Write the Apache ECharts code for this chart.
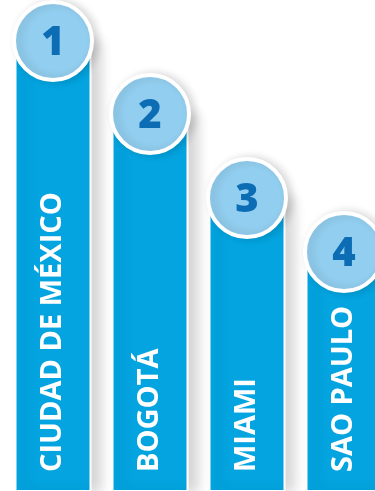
<!DOCTYPE html>
<html>
<head>
<meta charset="utf-8">
<script src="https://cdn.jsdelivr.net/npm/echarts@6/dist/echarts.min.js"></script>
<style>
  html, body { margin: 0; padding: 0; background: #ffffff; }
  #chart { width: 375px; height: 491px; }
</style>
</head>
<body>
<div id="chart"></div>
<script>
// Ranking of cities: column height marks the position, badge shows the rank
const cities = ['CIUDAD DE MÉXICO', 'BOGOTÁ', 'MIAMI', 'SAO PAULO'];
const ranks = ['1', '2', '3', '4'];
const heights = [460, 387, 303, 249];

const BAR_BLUE = '#03A4E0';
const BADGE_BLUE = '#92CEEF';
const DIGIT_BLUE = '#0D6DB4';

// Columns sit at positions 0..3; the last one runs past the right edge
const points = heights.map((h, i) => [i, h]);

const chart = echarts.init(document.getElementById('chart'), null, { renderer: 'canvas' });

chart.setOption({
  backgroundColor: '#ffffff',
  animation: false,
  grid: { left: 0, top: 0, right: 0, bottom: 0 },
  xAxis: {
    type: 'value',
    min: -0.5464,
    max: 3.3196,
    show: false
  },
  yAxis: {
    type: 'value',
    min: 10,
    max: 501,
    show: false
  },
  series: [
    {
      type: 'bar',
      data: points,
      barWidth: 77,
      clip: true,
      z: 2,
      itemStyle: {
        color: BAR_BLUE,
        borderColor: '#ffffff',
        borderWidth: 2,
        shadowColor: 'rgba(0,0,0,0.16)',
        shadowBlur: 12,
        shadowOffsetX: 9
      },
      label: {
        show: true,
        position: 'insideBottom',
        distance: 18,
        offset: [2, 0],
        rotate: 90,
        align: 'left',
        verticalAlign: 'middle',
        formatter: p => cities[p.dataIndex],
        color: '#ffffff',
        fontFamily: 'Open Sans',
        fontWeight: 'bold',
        fontSize: 29
      }
    },
    {
      type: 'scatter',
      data: points,
      symbol: 'circle',
      symbolSize: 78,
      z: 3,
      itemStyle: {
        color: BADGE_BLUE,
        borderColor: '#ffffff',
        borderWidth: 4,
        opacity: 1,
        shadowColor: 'rgba(0,0,0,0.14)',
        shadowBlur: 8,
        shadowOffsetX: 4
      },
      label: {
        show: true,
        position: 'inside',
        offset: [0, 3],
        formatter: p => ranks[p.dataIndex],
        color: DIGIT_BLUE,
        fontFamily: 'Open Sans',
        fontWeight: 800,
        fontSize: 40
      }
    }
  ]
});
</script>
</body>
</html>
